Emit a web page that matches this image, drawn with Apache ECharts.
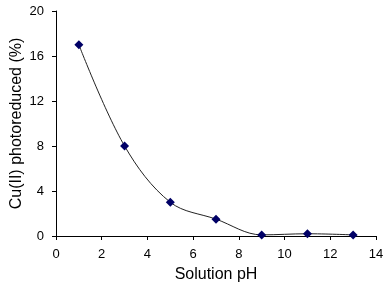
<!DOCTYPE html>
<html><head><meta charset="utf-8">
<script src="https://cdn.jsdelivr.net/npm/echarts@6/dist/echarts.min.js"></script>
<style>html,body{margin:0;padding:0;background:#fff}#c{width:390px;height:282px}</style>
</head><body><div id="c"></div>
<script>
const phValues = [1, 3, 5, 7, 9, 11, 13];
const cuReduced = [17, 8, 3, 1.5, 0.1, 0.2, 0.1];
const xName = 'Solution pH';
const yName = 'Cu(II) photoreduced (%)';

const chart = echarts.init(document.getElementById('c'));
const font = 'Liberation Sans, Arial, sans-serif';
chart.setOption({
  animation: false,
  grid: {left: 56, right: 14, top: 11, bottom: 46, containLabel: false, outerBoundsMode: 'none'},
  xAxis: {
    type: 'value', min: 0, max: 14, interval: 2,
    name: xName, nameLocation: 'middle', nameGap: 31, nameMoveOverlap: false,
    nameTextStyle: {fontFamily: font, fontSize: 16, color: '#000'},
    axisLine: {show: true, lineStyle: {color: '#000', width: 1}},
    axisTick: {show: true, inside: false, length: 4, lineStyle: {color: '#000'}},
    axisLabel: {fontFamily: font, fontSize: 13, color: '#000', margin: 12},
    splitLine: {show: false}
  },
  yAxis: {
    type: 'value', min: 0, max: 20, interval: 4,
    name: yName, nameLocation: 'middle', nameGap: 31, nameRotate: 90, nameMoveOverlap: false,
    nameTextStyle: {fontFamily: font, fontSize: 16, color: '#000'},
    axisLine: {show: true, lineStyle: {color: '#000', width: 1}},
    axisTick: {show: true, inside: false, length: 4, lineStyle: {color: '#000'}},
    axisLabel: {fontFamily: font, fontSize: 13, color: '#000', margin: 12},
    splitLine: {show: false}
  },
  series: [{
    type: 'line',
    data: phValues.map((x, i) => [x, cuReduced[i]]),
    smooth: 0.35,
    symbol: 'diamond', symbolSize: 9,
    itemStyle: {color: '#000066'},
    lineStyle: {color: '#222', width: 1}
  }]
});
</script></body></html>
